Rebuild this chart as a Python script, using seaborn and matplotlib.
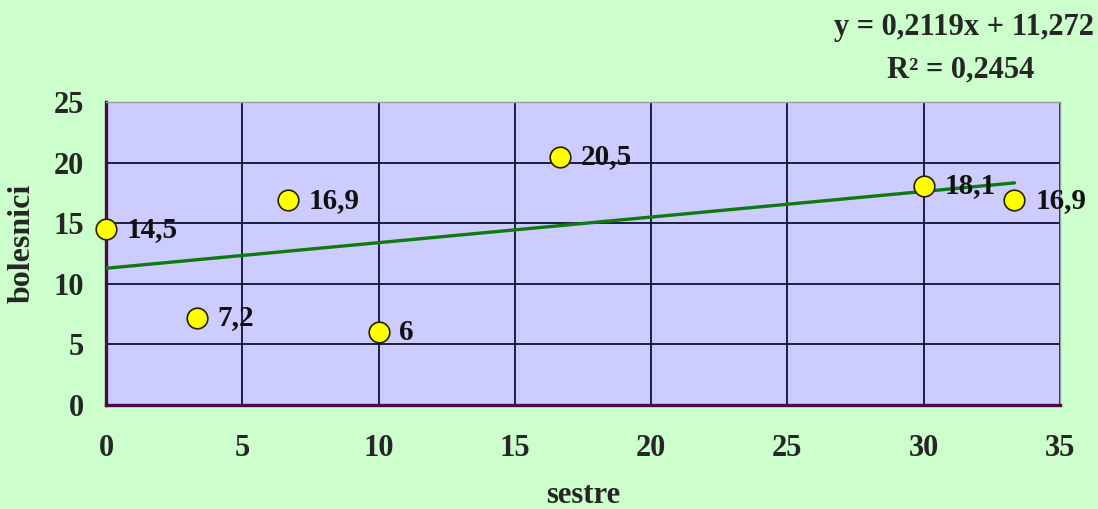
import numpy as np
import pandas as pd
import matplotlib
matplotlib.use("Agg")
import matplotlib.pyplot as plt
import seaborn as sns

# podaci: sestre (x) i bolesnici (y)
sestre = [0, 3.33, 6.67, 10, 16.67, 30, 33.33]
bolesnici = [14.5, 7.2, 16.9, 6, 20.5, 18.1, 16.9]
oznake = ["14,5", "7,2", "16,9", "6", "20,5", "18,1", "16,9"]
x_ticks = [0, 5, 10, 15, 20, 25, 30, 35]
y_ticks = [0, 5, 10, 15, 20, 25]
jednadzba = "y = 0,2119x + 11,272"
r2_tekst = "R² = 0,2454"

df = pd.DataFrame({"sestre": sestre, "bolesnici": bolesnici})

sns.set_style("white")
plt.rcParams["font.family"] = ["Liberation Serif", "DejaVu Serif"]
plt.rcParams["font.weight"] = "bold"
FS = 22

fig = plt.figure(figsize=(10.98, 5.09), dpi=100, facecolor="#CCFFCC")
ax = fig.add_axes([106 / 1098, 1 - 405 / 509, 954 / 1098, 303 / 509])
ax.set_facecolor("#CCCCFF")

# trend linija (linearna regresija)
sns.regplot(data=df, x="sestre", y="bolesnici", ax=ax, ci=None, scatter=False,
            truncate=True, line_kws=dict(color="#0f7a0f", lw=2.4, zorder=3))
sns.scatterplot(data=df, x="sestre", y="bolesnici", ax=ax, s=220, color="#FFFF00",
                edgecolor="#222200", linewidth=1.2, zorder=4, clip_on=False)

for xi, yi, t in zip(sestre, bolesnici, oznake):
    ax.annotate(t, (xi, yi), xytext=(15, 0), textcoords="offset points",
                va="center", ha="left", fontsize=FS - 1, fontweight="bold", color="#111111")

ax.set_xlim(0, 35)
ax.set_ylim(0, 25)
ax.set_xticks(x_ticks)
ax.set_yticks(y_ticks)
ax.grid(True, color="#101030", lw=1.3)
ax.set_axisbelow(True)

for s in ["left", "bottom"]:
    ax.spines[s].set_color("#4a0a4a")
    ax.spines[s].set_linewidth(2.4)
for s in ["top", "right"]:
    ax.spines[s].set_color("#9a9aa8")
    ax.spines[s].set_linewidth(1)

ax.tick_params(axis="both", direction="out", length=4, width=2, color="#4a0a4a",
               labelsize=FS)
ax.tick_params(axis="x", pad=17)
ax.tick_params(axis="y", pad=12)
for lbl in ax.get_xticklabels() + ax.get_yticklabels():
    lbl.set_fontweight("bold")

ax.set_xlabel("sestre", fontsize=FS, fontweight="bold")
ax.set_ylabel("bolesnici", fontsize=FS + 1, fontweight="bold", va="center")
ax.xaxis.set_label_coords(0.5, -0.25)
ax.yaxis.set_label_coords(-0.088, 0.535)

fig.text(1094 / 1098, 1 - 27 / 509, jednadzba, ha="right", va="center",
         fontsize=FS, fontweight="bold")
fig.text(961 / 1098, 1 - 70 / 509, r2_tekst, ha="center", va="center",
         fontsize=FS, fontweight="bold")

fig.savefig("out.png", dpi=100, facecolor=fig.get_facecolor())
